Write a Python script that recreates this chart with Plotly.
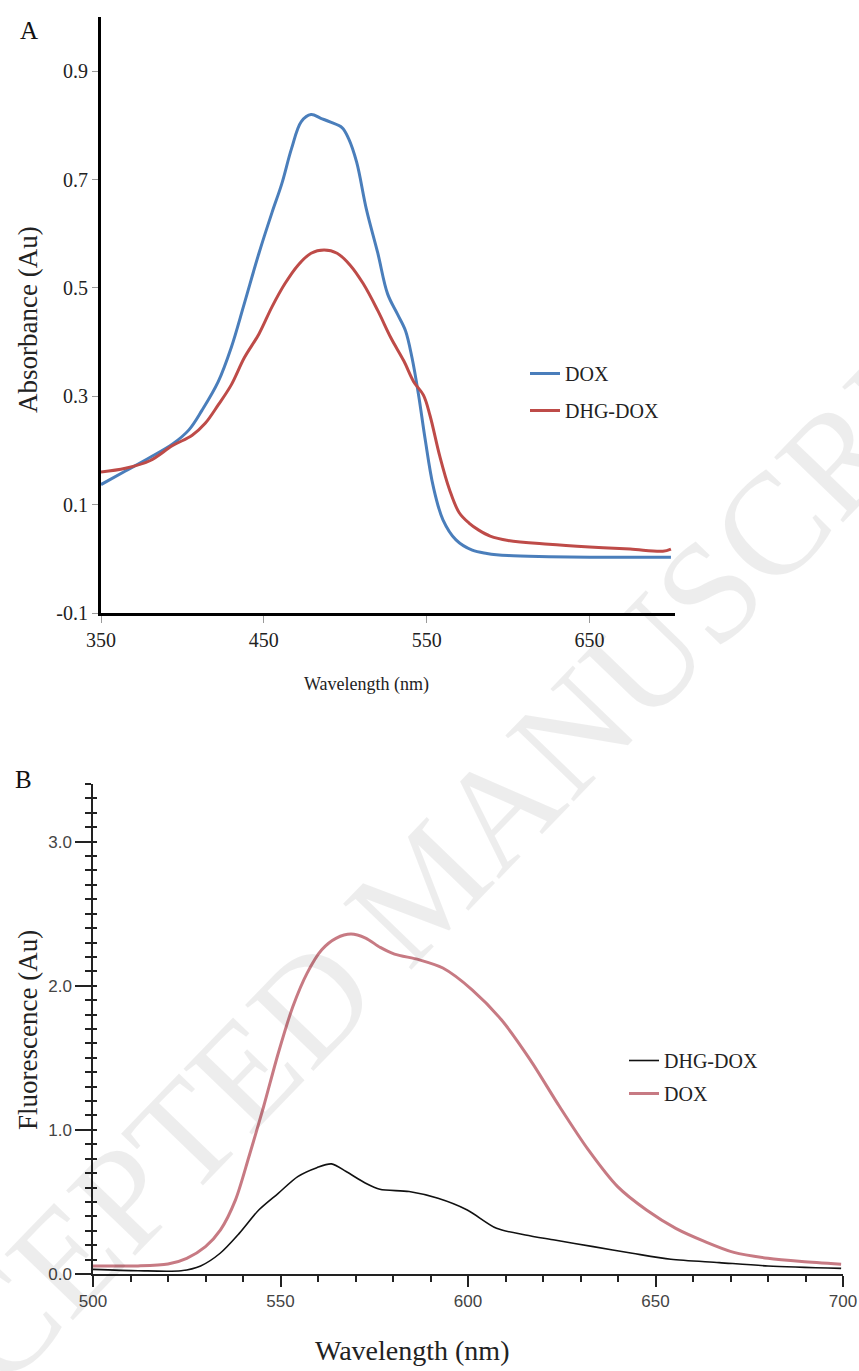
import plotly.graph_objects as go

# ---------------- Panel A: absorbance ----------------
abs_wl_dox = [350, 365, 380, 394, 404, 412, 422, 430, 438, 447, 455, 461, 467, 473, 479, 485,
              491, 498, 502, 507, 513, 520, 526, 532, 537, 541, 545, 549, 554, 560, 568, 578,
              587, 600, 625, 650, 675, 700]
abs_dox = [0.137, 0.162, 0.187, 0.212, 0.238, 0.274, 0.327, 0.390, 0.471, 0.564, 0.639, 0.692,
           0.757, 0.807, 0.820, 0.813, 0.806, 0.796, 0.776, 0.732, 0.645, 0.564, 0.489, 0.452,
           0.421, 0.371, 0.303, 0.222, 0.134, 0.072, 0.035, 0.016, 0.010, 0.006, 0.004, 0.003,
           0.003, 0.003]

abs_wl_dhg = [350, 365, 380, 394, 406, 414, 422, 430, 438, 447, 455, 463, 471, 479, 487, 495,
              503, 511, 520, 528, 536, 542, 548, 552, 558, 564, 570, 576, 582, 589, 600, 625,
              650, 675, 695, 700]
abs_dhg = [0.160, 0.167, 0.181, 0.209, 0.228, 0.250, 0.284, 0.321, 0.371, 0.415, 0.465, 0.508,
           0.542, 0.564, 0.570, 0.564, 0.542, 0.508, 0.458, 0.408, 0.365, 0.327, 0.302, 0.265,
           0.190, 0.128, 0.085, 0.066, 0.053, 0.042, 0.034, 0.027, 0.022, 0.018, 0.014, 0.018]

abs_yticks = [-0.1, 0.1, 0.3, 0.5, 0.7, 0.9]
abs_yticktext = ["-0.1", "0.1", "0.3", "0.5", "0.7", "0.9"]
abs_xticks = [350, 450, 550, 650]

# ---------------- Panel B: fluorescence ----------------
fl_wl_dox = [500, 512, 520, 525, 530, 534, 538, 541.6, 545.5, 549.4, 553.3, 557.1, 561, 564.9,
             568.8, 572.7, 576.6, 580.4, 586.9, 593.3, 601.1, 608.9, 616.6, 624.4, 632.1, 639.9,
             647.6, 655.4, 663.2, 670.9, 680, 689, 699.5]
fl_dox = [0.056, 0.056, 0.069, 0.109, 0.190, 0.306, 0.514, 0.815, 1.162, 1.532, 1.856, 2.088,
          2.250, 2.331, 2.359, 2.331, 2.266, 2.220, 2.181, 2.123, 1.972, 1.764, 1.486, 1.162,
          0.861, 0.606, 0.444, 0.317, 0.225, 0.150, 0.109, 0.086, 0.067]

fl_wl_dhg = [500, 512, 523.5, 528.7, 533.9, 539, 544.2, 549.4, 554.6, 559.7, 563.6, 567.5, 572.7,
             576.5, 584.3, 592, 599.8, 607.6, 615.3, 623.1, 633.4, 643.8, 654.1, 667, 680, 699.5]
fl_dhg = [0.032, 0.023, 0.023, 0.056, 0.144, 0.282, 0.444, 0.560, 0.676, 0.738, 0.764, 0.711,
          0.630, 0.588, 0.572, 0.525, 0.444, 0.317, 0.271, 0.236, 0.190, 0.144, 0.102, 0.079,
          0.056, 0.039]

fl_yticks = [0, 1, 2, 3]
fl_yticktext = ["0.0", "1.0", "2.0", "3.0"]
fl_xticks = [500, 550, 600, 650, 700]
fl_minor_y = [i / 10 for i in range(0, 35)]

W, H = 859, 1371
def px(x):
    return x / W
def py(y):
    return 1 - y / H

SERIF = "Liberation Serif"
SANS = "Liberation Sans"

fig = go.Figure()

fig.add_trace(go.Scatter(x=abs_wl_dox, y=abs_dox, mode="lines", name="DOX",
                         line=dict(color="#4a7ebb", width=3, shape="spline", smoothing=1.0),
                         xaxis="x", yaxis="y", legend="legend", legendgroup="a1"))
fig.add_trace(go.Scatter(x=abs_wl_dhg, y=abs_dhg, mode="lines", name="DHG-DOX",
                         line=dict(color="#be4b48", width=3, shape="spline", smoothing=1.0),
                         xaxis="x", yaxis="y", legend="legend", legendgroup="a2"))

fig.add_trace(go.Scatter(x=fl_wl_dhg, y=fl_dhg, mode="lines", name="DHG-DOX",
                         line=dict(color="#111111", width=1.6, shape="spline", smoothing=0.8),
                         xaxis="x2", yaxis="y2", legend="legend2", legendgroup="b1"))
fig.add_trace(go.Scatter(x=fl_wl_dox, y=fl_dox, mode="lines", name="DOX",
                         line=dict(color="#c77a83", width=3, shape="spline", smoothing=0.8),
                         xaxis="x2", yaxis="y2", legend="legend2", legendgroup="b2"))
# invisible trace to activate the overlay axis that draws the inner half of the ticks
fig.add_trace(go.Scatter(x=[500], y=[0], mode="markers", marker=dict(opacity=0),
                         xaxis="x2", yaxis="y3", showlegend=False, hoverinfo="skip"))

fig.update_layout(
    width=W, height=H,
    margin=dict(l=0, r=0, t=0, b=0, autoexpand=False),
    paper_bgcolor="white", plot_bgcolor="white",
    xaxis=dict(domain=[px(101), px(675)], range=[350, 702.5], anchor="y", automargin=False,
               tickvals=abs_xticks, ticks="outside", ticklen=7, tickcolor="#9a9a9a", tickwidth=1,
               tickfont=dict(family=SERIF, size=20, color="#222"),
               showline=True, linewidth=3, linecolor="black", showgrid=False, zeroline=False),
    yaxis=dict(domain=[py(613), py(17)], range=[-0.1, 1.0], anchor="x", automargin=False,
               tickvals=abs_yticks, ticktext=abs_yticktext,
               ticks="outside", ticklen=6, tickcolor="#9a9a9a", tickwidth=1,
               tickfont=dict(family=SERIF, size=20, color="#222"),
               showline=True, linewidth=3, linecolor="black", showgrid=False, zeroline=False),
    xaxis2=dict(domain=[px(93), px(843)], range=[500, 700], anchor="y2", automargin=False,
                tickvals=fl_xticks, ticks="outside", ticklen=11, tickcolor="#222", tickwidth=1.5,
                minor=dict(dtick=10, tick0=500, ticks="outside", ticklen=6, tickcolor="#222", tickwidth=1.5),
                tickfont=dict(family=SANS, size=17, color="#444"),
                showline=True, linewidth=1.5, linecolor="#222", showgrid=False, zeroline=False),
    yaxis2=dict(domain=[py(1274), py(784)], range=[0, 3.4], anchor="x2", automargin=False,
                tickvals=fl_yticks, ticktext=fl_yticktext, ticks="outside", ticklen=16,
                tickcolor="#222", tickwidth=1.5,
                minor=dict(dtick=0.1, tick0=0, ticks="outside", ticklen=6, tickcolor="#222", tickwidth=1.5),
                tickfont=dict(family=SANS, size=17, color="#444"),
                showline=True, linewidth=1.5, linecolor="#222", showgrid=False, zeroline=False),
    yaxis3=dict(domain=[py(1274), py(784)], range=[0, 3.4], anchor="x2", overlaying="y2",
                automargin=False,
                tickvals=fl_minor_y, ticks="inside", ticklen=4, tickcolor="#222", tickwidth=1.5,
                showticklabels=False, showline=False, showgrid=False, zeroline=False),
    legend=dict(x=px(525), y=py(354), xanchor="left", yanchor="top", bgcolor="rgba(0,0,0,0)",
                font=dict(family=SERIF, size=20, color="#222"), tracegroupgap=8,
                itemwidth=30),
    legend2=dict(x=px(624), y=py(1041), xanchor="left", yanchor="top", bgcolor="rgba(0,0,0,0)",
                 font=dict(family=SERIF, size=20, color="#222"), tracegroupgap=4,
                 itemwidth=30),
    showlegend=True,
)

annotations = [
    dict(text="A", x=px(18), y=py(30), xanchor="left", yanchor="middle",
         font=dict(family=SERIF, size=25, color="#111")),
    dict(text="B", x=px(13), y=py(780), xanchor="left", yanchor="middle",
         font=dict(family=SERIF, size=25, color="#111")),
    dict(text="Absorbance (Au)", x=px(28), y=py(320), textangle=-90,
         xanchor="center", yanchor="middle", font=dict(family=SERIF, size=27, color="#222")),
    dict(text="Wavelength (nm)", x=px(366), y=py(684), xanchor="center", yanchor="middle",
         font=dict(family=SERIF, size=18, color="#222")),
    dict(text="Fluorescence (Au)", x=px(28), y=py(1030), textangle=-90,
         xanchor="center", yanchor="middle", font=dict(family=SERIF, size=27, color="#222")),
    dict(text="Wavelength (nm)", x=px(412), y=py(1350), xanchor="center", yanchor="middle",
         font=dict(family=SERIF, size=28, color="#222")),
    dict(text="ACCEPTED MANUSCRIPT", x=px(425), y=py(885), textangle=-46,
         xanchor="center", yanchor="middle",
         font=dict(family=SERIF, size=145, color="rgba(0,0,0,0.07)")),
]
for a in annotations:
    a.update(xref="paper", yref="paper", showarrow=False)
fig.update_layout(annotations=annotations)

# remove the page's default body margin so the figure fills the window exactly
fig.write_html(
    "out.html",
    config={"displayModeBar": False},
    post_script="document.body.style.margin='0';"
                "document.documentElement.style.overflow='hidden';",
)
